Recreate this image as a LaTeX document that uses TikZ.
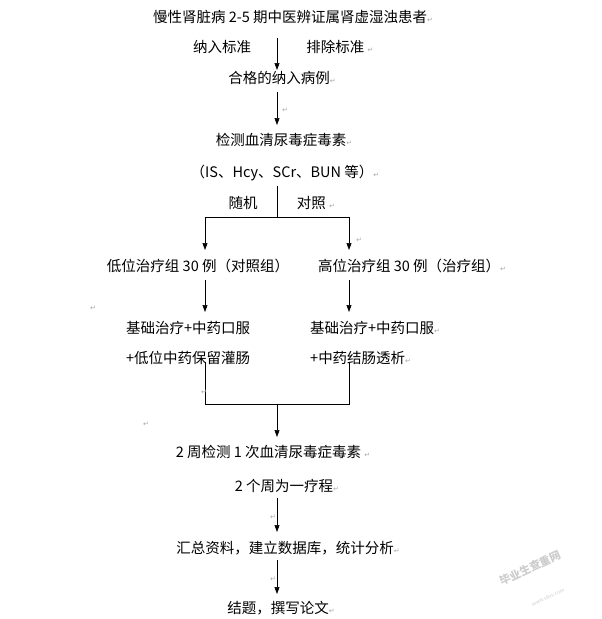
\documentclass[tikz,border=0pt]{standalone}
\usepackage{fontspec}
\setmainfont{Noto Sans CJK SC}
\newfontfamily\symfont{DejaVu Sans}
\usetikzlibrary{arrows.meta,positioning}
\newcommand{\pmark}{{\symfont\fontsize{7}{8}\selectfont\color{gray!70}↵}}

\begin{document}
\begin{tikzpicture}[x=1pt,y=-1pt,
    txt/.style={inner sep=1pt, font=\fontsize{14.5}{16}\selectfont},
    arr/.style={-{Triangle[length=7pt,width=5pt]}, line width=0.6pt},
    ln/.style={line width=0.6pt}
]
    \useasboundingbox (0,0) rectangle (602,619);

    \node[txt] (top)  at (293,17)  {慢性肾脏病 2-5 期中医辨证属肾虚湿浊患者\pmark};
    \node[txt] (inc)  at (222,47)  {纳入标准};
    \node[txt] (exc)  at (340,47)  {排除标准 \pmark};
    \node[txt] (ok)   at (282,78)  {合格的纳入病例\pmark};
    \node[txt] (det)  at (284,140) {检测血清尿毒症毒素\pmark};
    \node[txt] (ind)  at (285,173) {（IS、Hcy、SCr、BUN 等）\pmark};
    \node[txt] (rnd)  at (243,203) {随机};
    \node[txt] (ctl)  at (316,203) {对照 \pmark};
    \node[txt] (lowg) at (198,266) {低位治疗组 30 例（对照组）};
    \node[txt] (higg) at (412,266) {高位治疗组 30 例（治疗组）\pmark};
    \node[txt, anchor=west] (low1) at (125,328) {基础治疗+中药口服};
    \node[txt, anchor=west] (low2) at (125,358) {+低位中药保留灌肠};
    \node[txt, anchor=west] (hig1) at (309,328) {基础治疗+中药口服\pmark};
    \node[txt, anchor=west] (hig2) at (309,358) {+中药结肠透析\pmark};
    \node[txt] (two)  at (273,452) {2 周检测 1 次血清尿毒症毒素 \pmark};
    \node[txt] (cyc)  at (287,486) {2 个周为一疗程\pmark};
    \node[txt] (sum)  at (288,548) {汇总资料，建立数据库，统计分析\pmark};
    \node[txt] (end)  at (281,608) {结题，撰写论文\pmark};

    % branch points
    \coordinate (s1) at (277,38);
    \coordinate (s2) at (277,92);
    \coordinate (s3) at (277,186);
    \coordinate (sl) at (205,217);
    \coordinate (sr) at (349,217);
    \coordinate (m1) at (205,362);
    \coordinate (m2) at (349,362);
    \coordinate (ml) at (205,404);
    \coordinate (mr) at (349,404);
    \coordinate (mc) at (277,404);
    \coordinate (s4) at (277,498);
    \coordinate (s5) at (277,560);

    \draw[arr] (s1) -- (277,70);
    \draw[arr] (s2) -- (277,125);
    \draw[ln] (s3) -- (277,217);
    \draw[arr] (277,217) -- (sl) -- (205,250);
    \draw[arr] (277,217) -- (sr) -- (349,250);
    \draw[arr] (205,280) -- (205,312);
    \draw[arr] (349,280) -- (349,312);
    \draw[ln] (m1) -- (ml) -- (mr) -- (m2);
    \draw[arr] (mc) -- (277,437);
    \draw[arr] (s4) -- (277,532);
    \draw[arr] (s5) -- (277,594);

    % stray paragraph marks
    \node at (93,308) {\pmark};
    \node at (146,424) {\pmark};
    \node at (285,110) {\pmark};
    \node at (359,240) {\pmark};
    \node at (204,392) {\pmark};
    \node at (273,517) {\pmark};
    \node at (273,579) {\pmark};

    % watermark
    \node[rotate=25, text=gray!40, font=\fontsize{11}{13}\selectfont\bfseries] (wm) at (530,568) {毕业生查重网};
    \node[rotate=25, text=gray!40, font=\fontsize{5}{6}\selectfont] (wm2) at (548,597) {www.sbvv.com};
\end{tikzpicture}
\end{document}
